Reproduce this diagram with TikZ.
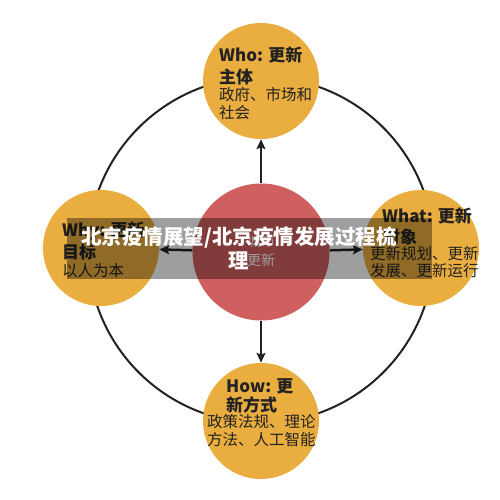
\documentclass[tikz,border=0pt]{standalone}
\usepackage{fontspec}
\setmainfont{Noto Sans CJK SC}
\usetikzlibrary{arrows.meta}
\definecolor{orng}{HTML}{EAAD3F}
\definecolor{rd}{HTML}{D0605F}
\definecolor{ink}{HTML}{222222}
\begin{document}
\begin{tikzpicture}[x=1pt,y=-1pt,
  orb/.style={circle, fill=orng, minimum size=116pt, inner sep=0pt},
  core/.style={circle, fill=rd, minimum size=137pt, inner sep=0pt},
  ttl/.style={font=\bfseries\fontsize{17}{17}\selectfont, text=ink, inner sep=0pt, anchor=west},
  bdy/.style={font=\fontsize{15.5}{15.5}\selectfont, text=ink, inner sep=0pt, anchor=west},
  ctr/.style={font=\fontsize{14}{14}\selectfont, text=white, inner sep=0pt},
  arr/.style={line width=2.5pt, draw=ink, -{Stealth[length=10pt,width=9pt,inset=2pt]}},
  ring/.style={draw=ink, line width=2pt},
  band/.style={fill=black, fill opacity=0.38},
  headline/.style={font=\bfseries\fontsize{20.5}{20.5}\selectfont, text=white, inner sep=0pt}]
\useasboundingbox (0,0) rectangle (500,500);
\fill[white] (0,0) rectangle (500,500);
% outer ring
\coordinate (rc) at (261,250);
\draw[ring] (rc) circle[radius=173];
% circles
\node[core] (c) at (261,252) {};
\node[orb] (T) at (261,81) {};
\node[orb] (L) at (101,248) {};
\node[orb] (R) at (421,248) {};
\node[orb] (B) at (261,421) {};
% arrows
\draw[arr] (c) -- (T);
\draw[arr] (c) -- (L);
\draw[arr] (c) -- (R);
\draw[arr] (c) -- (B);
% center text
\node[ctr] (c1) at (261,241) {城市};
\node[ctr] (c2) at (261,260) {更新};
% top
\node[ttl] (t1) at (219,55) {Who: 更新};
\node[ttl] (t2) at (219,77) {主体};
\node[bdy] (t3) at (219,95) {政府、市场和};
\node[bdy] (t4) at (219,113) {社会};
% left
\node[ttl] (l1) at (62,231) {Why: 更新};
\node[ttl] (l2) at (62,252) {目标};
\node[bdy] (l3) at (62,271) {以人为本};
% right
\node[ttl] (r1) at (382,216) {What: 更新};
\node[ttl] (r2) at (383,237) {对象};
\node[bdy] (r3) at (370,254) {更新规划、更新};
\node[bdy] (r4) at (370,271) {发展、更新运行};
% bottom
\node[ttl] (b1) at (226,386) {How: 更};
\node[ttl] (b2) at (226,405) {新方式};
\node[bdy] (b3) at (207,422) {政策法规、理论};
\node[bdy] (b4) at (207,440) {方法、人工智能};
% overlay band
\fill[band] (67,218) rectangle (432,279);
\node[headline] (h1) at (239,237) {北京疫情展望/北京疫情发展过程梳};
\node[headline] (h2) at (239,261) {理};
\end{tikzpicture}
\end{document}
